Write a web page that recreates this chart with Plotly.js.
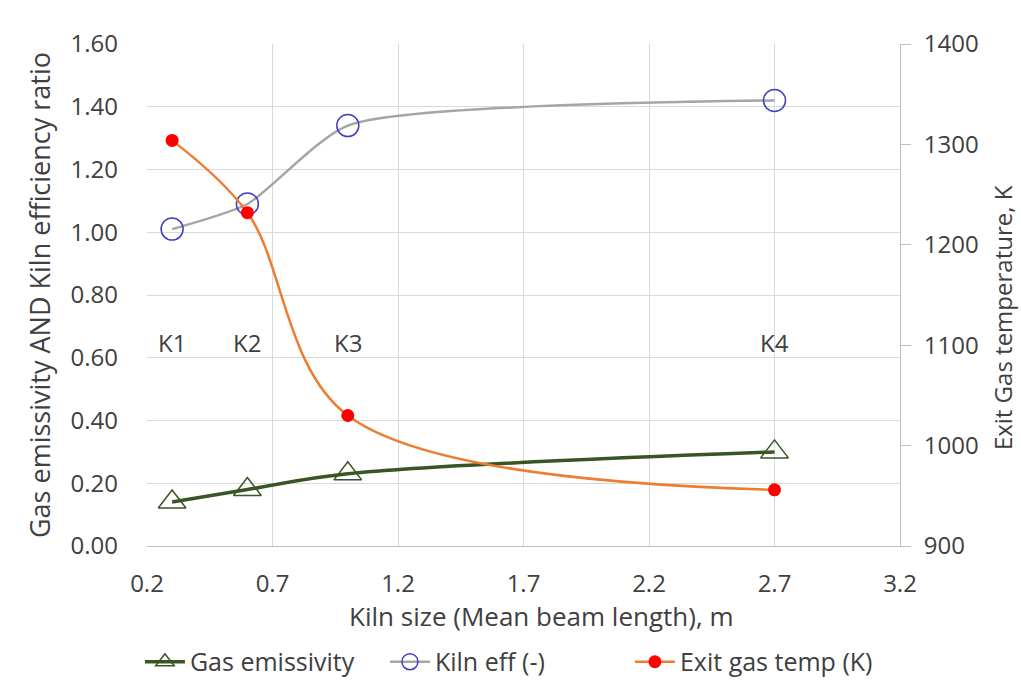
<!DOCTYPE html>
<html>
<head>
<meta charset="utf-8">
<script src="https://cdn.plot.ly/plotly-3.0.1.min.js"></script>
<style>html,body{margin:0;padding:0;background:#fff;}#chart{width:1021px;height:680px;}</style>
</head>
<body>
<div id="chart"></div>
<script>
const kilnSize = [0.3, 0.6, 1.0, 2.7];
const kilnLabels = ["K1", "K2", "K3", "K4"];
const gasEmissivity = [0.14, 0.18, 0.23, 0.30];
const kilnEff = [1.01, 1.09, 1.34, 1.42];
const exitGasTemp = [1304, 1232, 1030, 956];
const labelLevel = [0.65, 0.65, 0.65, 0.65];

const FONT = "'Open Sans', Lato, sans-serif";
const TXT = "#404040";

const traces = [
  {
    x: kilnSize, y: gasEmissivity, name: "Gas emissivity", type: "scatter", mode: "lines+markers",
    line: {color: "#375623", width: 3.5, shape: "spline", smoothing: 1},
    marker: {symbol: "triangle-up-open", size: 24, color: "#375623", line: {width: 1.5, color: "#375623"}},
    yaxis: "y"
  },
  {
    x: kilnSize, y: kilnEff, name: "Kiln eff (-)", type: "scatter", mode: "lines+markers",
    line: {color: "#A5A5A5", width: 2.5, shape: "spline", smoothing: 0.6},
    marker: {symbol: "circle-open", size: 22, color: "#3F3FBF", line: {width: 1.5, color: "#3F3FBF"}},
    yaxis: "y"
  },
  {
    x: kilnSize, y: exitGasTemp, name: "Exit gas temp (K)", type: "scatter", mode: "lines+markers",
    line: {color: "#ED7D31", width: 2.5, shape: "spline", smoothing: 1},
    marker: {symbol: "circle", size: 13, color: "#FF0000"},
    yaxis: "y2"
  }
];

const annotations = kilnLabels.map((t, i) => ({
  x: kilnSize[i], y: labelLevel[i], xref: "x", yref: "y", text: t, showarrow: false,
  font: {family: FONT, size: 24, color: TXT}
}));
annotations.push({
  text: "Exit Gas temperature, K", textangle: -90, showarrow: false,
  xref: "paper", yref: "paper", x: 1.1355, y: 0.454, xanchor: "center", yanchor: "middle",
  font: {family: FONT, size: 24, color: TXT}
});
annotations.push({
  text: "Kiln size (Mean beam length), m", showarrow: false,
  xref: "paper", yref: "paper", x: 0.523, y: -0.1395, xanchor: "center", yanchor: "middle",
  font: {family: FONT, size: 26, color: TXT}
});

const layout = {
  width: 1021, height: 680,
  margin: {l: 147, r: 121, t: 44, b: 134},
  paper_bgcolor: "#fff", plot_bgcolor: "#fff",
  font: {family: FONT, color: TXT, size: 24},
  showlegend: true,
  legend: {orientation: "h", xref: "container", yref: "container", x: 0.497, xanchor: "center", y: 0.0265, yanchor: "middle",
           entrywidth: 190, entrywidthmode: "pixels", itemwidth: 40,
           font: {family: FONT, size: 25, color: TXT}},
  xaxis: {
    range: [0.2, 3.2], dtick: 0.5, tick0: 0.2, tickformat: ".1f",
    showgrid: true, gridcolor: "#D9D9D9", gridwidth: 1,
    showline: true, linecolor: "#BFBFBF", zeroline: false, ticks: "",
    ticklabelstandoff: 16, automargin: false,
    tickfont: {family: FONT, size: 24, color: TXT}
  },
  yaxis: {
    range: [0, 1.6], dtick: 0.2, tickformat: ".2f",
    showgrid: true, gridcolor: "#D9D9D9", gridwidth: 1,
    showline: false, zeroline: false, ticks: "",
    ticklabelstandoff: 28, automargin: false,
    tickfont: {family: FONT, size: 24, color: TXT},
    title: {text: "Gas emissivity AND Kiln efficiency ratio", font: {family: FONT, size: 27, color: TXT}, standoff: 12}
  },
  yaxis2: {
    range: [900, 1400], dtick: 100, overlaying: "y", side: "right",
    showgrid: false, zeroline: false, showline: true, linecolor: "#BFBFBF",
    ticks: "outside", ticklen: 10, tickcolor: "#BFBFBF",
    ticklabelstandoff: 8, automargin: false,
    tickfont: {family: FONT, size: 24, color: TXT}
  },
  annotations: annotations
};

Plotly.newPlot("chart", traces, layout, {displayModeBar: false, staticPlot: true});
</script>
</body>
</html>
